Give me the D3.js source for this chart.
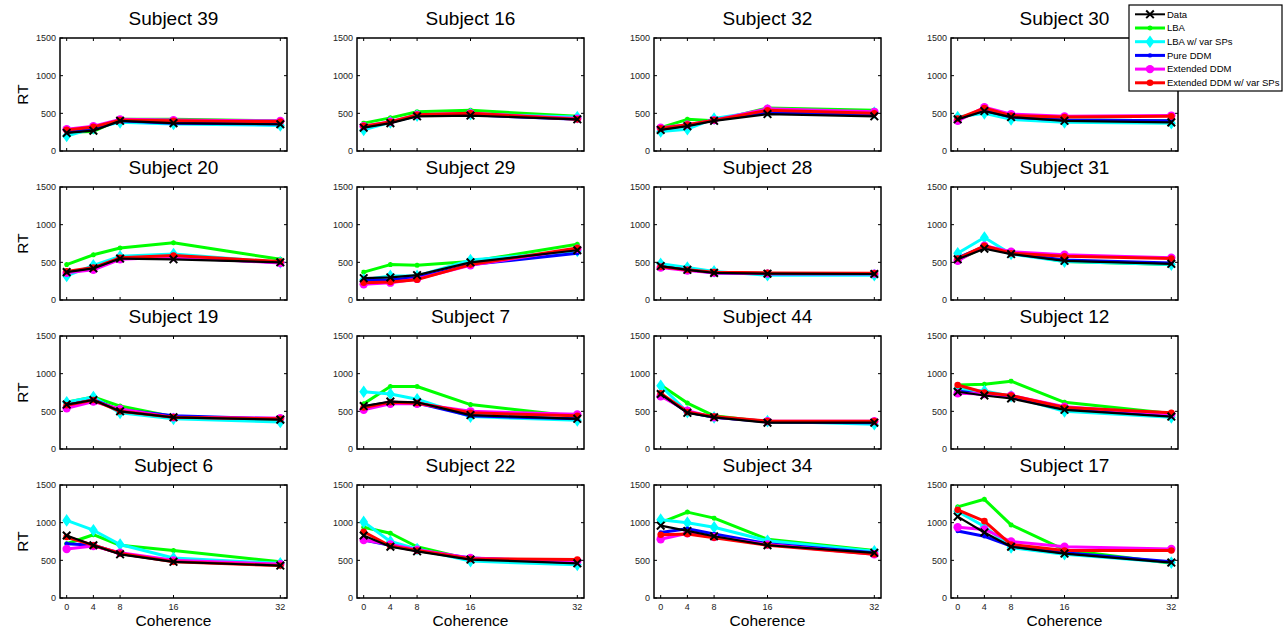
<!DOCTYPE html>
<html>
<head>
<meta charset="utf-8">
<script src="https://cdn.jsdelivr.net/npm/d3@7"></script>
<style>
  body { margin: 0; background: #fff; }
  svg { font-family: "Liberation Sans", Arial, Helvetica, sans-serif; }
</style>
</head>
<body>
<div id="chart"></div>
<script>
// subjects, in panel order (row by row)
const subjects = ["Subject 39", "Subject 16", "Subject 32", "Subject 30",
                  "Subject 20", "Subject 29", "Subject 28", "Subject 31",
                  "Subject 19", "Subject 7", "Subject 44", "Subject 12",
                  "Subject 6", "Subject 22", "Subject 34", "Subject 17"];
const coherence = [0, 4, 8, 16, 32];
const yTicks = [0, 500, 1000, 1500];

// mean RT per coherence level, one row per subject
const dataRT = [
  [240, 270, 400, 370, 355], [310, 370, 460, 470, 420], [280, 330, 400, 490, 460], [420, 530, 450, 400, 380],
  [370, 420, 550, 540, 500], [290, 300, 330, 500, 660], [450, 400, 360, 350, 345], [540, 680, 610, 520, 480],
  [590, 650, 500, 420, 390], [570, 630, 620, 450, 400], [730, 480, 420, 350, 350], [760, 710, 670, 520, 430],
  [830, 700, 580, 480, 430], [830, 680, 620, 510, 460], [960, 890, 820, 700, 600], [1080, 870, 680, 590, 470]
];
const lbaRT = [
  [250, 260, 420, 420, 400], [370, 440, 520, 540, 460], [310, 420, 400, 570, 540], [430, 550, 460, 410, 400],
  [470, 600, 690, 760, 540], [370, 470, 460, 510, 740], [460, 400, 370, 350, 350], [530, 700, 630, 510, 470],
  [620, 690, 570, 430, 370], [600, 830, 830, 590, 430], [850, 610, 440, 360, 360], [850, 860, 900, 620, 470],
  [720, 840, 700, 630, 480], [940, 860, 680, 510, 460], [1000, 1140, 1060, 780, 630], [1210, 1310, 970, 640, 460]
];
const lbaVarRT = [
  [200, 300, 380, 360, 340], [280, 380, 470, 490, 450], [260, 290, 430, 540, 510], [450, 500, 420, 380, 370],
  [320, 460, 580, 610, 500], [270, 320, 320, 530, 650], [480, 430, 380, 330, 330], [620, 830, 610, 510, 470],
  [620, 690, 480, 400, 360], [760, 730, 660, 430, 380], [840, 490, 420, 370, 330], [800, 770, 700, 500, 420],
  [1030, 900, 710, 530, 460], [1010, 750, 650, 490, 440], [1040, 1000, 940, 760, 620], [1150, 950, 670, 580, 470]
];
const pureDdmRT = [
  [250, 290, 400, 370, 360], [320, 380, 470, 480, 420], [290, 340, 410, 510, 480], [430, 540, 450, 410, 400],
  [370, 420, 550, 560, 500], [260, 270, 300, 470, 620], [440, 400, 360, 350, 350], [560, 710, 620, 530, 490],
  [580, 650, 520, 440, 400], [560, 620, 610, 440, 400], [720, 490, 420, 360, 350], [770, 720, 690, 540, 440],
  [720, 700, 590, 490, 440], [770, 700, 630, 530, 470], [870, 920, 850, 720, 600], [890, 820, 690, 600, 480]
];
const extDdmRT = [
  [290, 330, 420, 410, 400], [330, 390, 480, 500, 430], [310, 350, 410, 560, 520], [400, 580, 490, 460, 470],
  [360, 400, 540, 570, 490], [210, 230, 280, 460, 680], [430, 390, 360, 350, 350], [520, 720, 640, 600, 560],
  [540, 630, 530, 420, 410], [520, 600, 600, 500, 460], [700, 510, 420, 370, 370], [740, 730, 710, 560, 460],
  [650, 690, 600, 500, 450], [770, 710, 640, 530, 490], [780, 860, 810, 710, 580], [940, 910, 750, 680, 650]
];
const extDdmVarRT = [
  [280, 320, 410, 400, 390], [330, 385, 480, 500, 420], [300, 350, 410, 540, 500], [430, 570, 470, 450, 460],
  [380, 430, 560, 590, 510], [230, 240, 270, 470, 690], [440, 400, 370, 360, 355], [550, 720, 620, 580, 550],
  [580, 650, 500, 420, 400], [550, 620, 610, 480, 440], [740, 490, 430, 370, 370], [850, 750, 710, 550, 480],
  [810, 700, 590, 480, 430], [880, 690, 630, 520, 510], [840, 850, 800, 700, 580], [1170, 1020, 710, 630, 630]
];

const seriesNames = ["Data", "LBA", "LBA w/ var SPs", "Pure DDM", "Extended DDM", "Extended DDM w/ var SPs"];
const seriesColors = ["#000000", "#00ff00", "#00ffff", "#0000ff", "#ff00ff", "#ff0000"];
const seriesMarkers = ["x", "star", "diamond", "dot", "circle", "bigdot"];
const seriesValues = [dataRT, lbaRT, lbaVarRT, pureDdmRT, extDdmRT, extDdmVarRT];

const W = 1283, H = 632;
const colLeft = [60, 357, 654, 951];
const rowTop = [38, 187, 336, 485];
const pw = 227, ph = 113;

const svg = d3.select("#chart").append("svg")
    .attr("width", W)
    .attr("height", H);

const x = d3.scaleLinear().domain([-1, 33]).range([0, pw]);
const y = d3.scaleLinear().domain([0, 1500]).range([ph, 0]);

const line = d3.line()
    .x((d, i) => x(coherence[i]))
    .y(d => y(d));

// draws one marker centred at the origin of g
function drawMarker(g, type, color) {
    if (type == "x") {
        g.append("path").attr("d", "M-3.8,-3.8L3.8,3.8M-3.8,3.8L3.8,-3.8")
            .attr("stroke", color).attr("stroke-width", 2).attr("fill", "none");
    } else if (type == "star") {
        g.append("path").attr("d", "M-2.5,0L2.5,0M0,-2.5L0,2.5M-1.8,-1.8L1.8,1.8M-1.8,1.8L1.8,-1.8")
            .attr("stroke", color).attr("stroke-width", 1.5).attr("fill", "none");
    } else if (type == "diamond") {
        g.append("path").attr("d", "M0,-5L3.5,0L0,5L-3.5,0Z")
            .attr("fill", color).attr("stroke", color).attr("stroke-width", 1.5);
    } else if (type == "dot") {
        g.append("circle").attr("r", 2.2).attr("fill", color);
    } else if (type == "circle") {
        g.append("circle").attr("r", 4.2).attr("fill", color);
    } else if (type == "bigdot") {
        g.append("circle").attr("r", 3.3).attr("fill", color);
    }
}

subjects.forEach((name, p) => {
    const row = Math.floor(p / 4), col = p % 4;
    const g = svg.append("g")
        .attr("transform", `translate(${colLeft[col]},${rowTop[row]})`);

    g.append("text")
        .attr("x", pw / 2).attr("y", -13)
        .attr("text-anchor", "middle")
        .attr("font-size", 19)
        .text(name);

    // y tick labels
    g.selectAll(".ytl").data(yTicks).join("text")
        .attr("x", -4).attr("y", d => y(d) + 3.2)
        .attr("text-anchor", "end")
        .attr("font-size", 9)
        .attr("fill", "#222")
        .text(d => d);

    // inward ticks on all four sides
    const tl = 3;
    g.selectAll(".ytk").data(yTicks).join("path")
        .attr("d", d => `M0,${y(d)}h${tl}M${pw},${y(d)}h${-tl}`)
        .attr("stroke", "#000").attr("stroke-width", 1);
    g.selectAll(".xtk").data(coherence).join("path")
        .attr("d", d => `M${x(d)},${ph}v${-tl}M${x(d)},0v${tl}`)
        .attr("stroke", "#000").attr("stroke-width", 1);

    if (row == 3) {
        g.selectAll(".xtl").data(coherence).join("text")
            .attr("x", d => x(d)).attr("y", ph + 12)
            .attr("text-anchor", "middle")
            .attr("font-size", 9)
            .attr("fill", "#222")
            .text(d => d);
        g.append("text")
            .attr("x", pw / 2).attr("y", ph + 28)
            .attr("text-anchor", "middle")
            .attr("font-size", 15.5)
            .text("Coherence");
    }
    if (col == 0) {
        g.append("text")
            .attr("transform", `translate(-32,${ph / 2}) rotate(-90)`)
            .attr("text-anchor", "middle")
            .attr("font-size", 15.5)
            .text("RT");
    }

    // models first, data on top
    const order = [1, 2, 3, 4, 5, 0];
    order.forEach(s => {
        const vals = seriesValues[s][p];
        g.append("path")
            .datum(vals)
            .attr("d", line)
            .attr("fill", "none")
            .attr("stroke", seriesColors[s])
            .attr("stroke-width", s == 0 ? 2.2 : 3)
            .attr("stroke-linejoin", "round");
        vals.forEach((v, i) => {
            const m = g.append("g").attr("transform", `translate(${x(coherence[i])},${y(v)})`);
            drawMarker(m, seriesMarkers[s], seriesColors[s]);
        });
    });

    g.append("rect")
        .attr("width", pw).attr("height", ph)
        .attr("fill", "none")
        .attr("stroke", "#000").attr("stroke-width", 1.5);
});

// legend
const lg = svg.append("g").attr("transform", "translate(1129,5)");
lg.append("rect")
    .attr("width", 153).attr("height", 86)
    .attr("fill", "#fff").attr("stroke", "#000").attr("stroke-width", 1.2);
seriesNames.forEach((n, i) => {
    const yy = 9.3 + i * 13.7;
    lg.append("path")
        .attr("d", `M6,${yy}H36`)
        .attr("stroke", seriesColors[i])
        .attr("stroke-width", i == 0 ? 2 : 3);
    const m = lg.append("g").attr("transform", `translate(21,${yy})`);
    drawMarker(m, seriesMarkers[i], seriesColors[i]);
    lg.append("text")
        .attr("x", 38).attr("y", yy + 3.3)
        .attr("font-size", 9.5)
        .text(n);
});
</script>
</body>
</html>
